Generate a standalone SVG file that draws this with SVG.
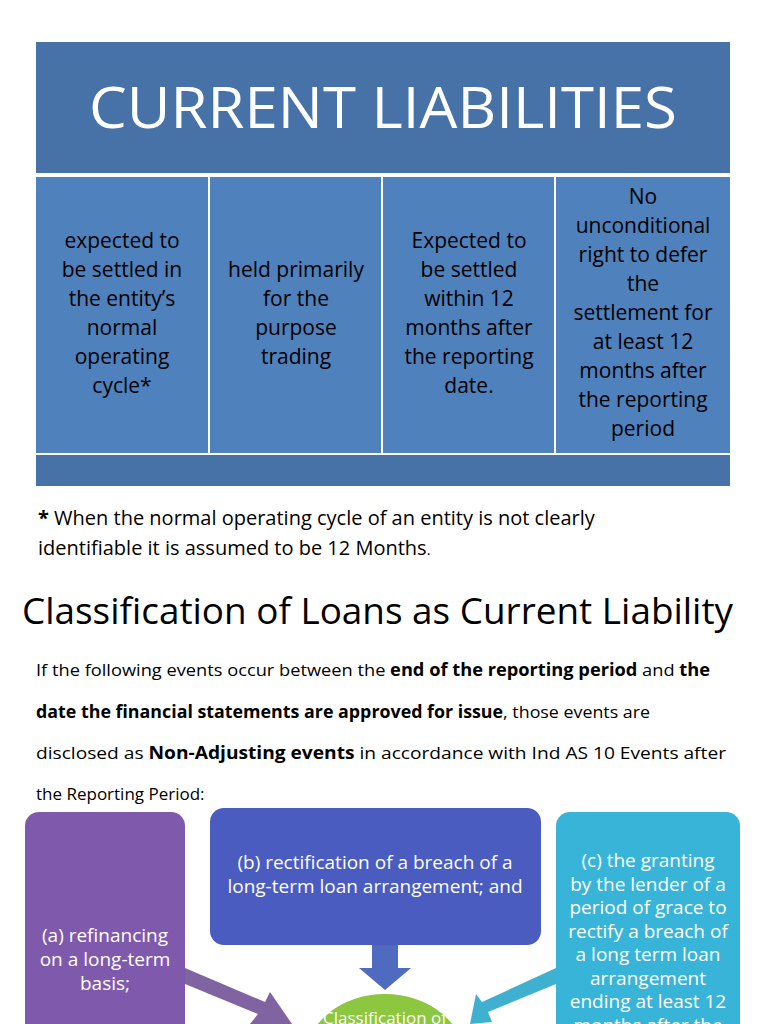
<svg xmlns="http://www.w3.org/2000/svg" width="768" height="1024" viewBox="0 0 768 1024">
<style>
.t{font-family:"Open Sans","Liberation Sans",sans-serif;fill:#000}
.w{font-family:"Open Sans","Liberation Sans",sans-serif;fill:#fff;text-anchor:middle}
.c{font-family:"Open Sans","Liberation Sans",sans-serif;fill:#000;text-anchor:middle;font-size:21px}
.cell{fill:#4f81bd}
</style>
<rect width="768" height="1024" fill="#fff"/>
<g id="header"><rect x="36" y="42" width="694" height="131" fill="#4672a8"/>
<text class="w" x="383" y="128" font-size="56" textLength="588" lengthAdjust="spacingAndGlyphs">CURRENT LIABILITIES</text></g>
<g id="col1"><rect class="cell" x="36" y="177" width="172" height="276"/>
<text class="c" x="122" y="248">expected to<tspan x="122" dy="29">be settled in</tspan><tspan x="122" dy="29">the entity’s</tspan><tspan x="122" dy="29">normal</tspan><tspan x="122" dy="29">operating</tspan><tspan x="122" dy="29">cycle*</tspan></text></g>
<g id="col2"><rect class="cell" x="210" y="177" width="171" height="276"/>
<text class="c" x="296" y="277">held primarily<tspan x="296" dy="29">for the</tspan><tspan x="296" dy="29">purpose</tspan><tspan x="296" dy="29">trading</tspan></text></g>
<g id="col3"><rect class="cell" x="383" y="177" width="171" height="276"/>
<text class="c" x="469" y="248">Expected to<tspan x="469" dy="29">be settled</tspan><tspan x="469" dy="29">within 12</tspan><tspan x="469" dy="29">months after</tspan><tspan x="469" dy="29">the reporting</tspan><tspan x="469" dy="29">date.</tspan></text></g>
<g id="col4"><rect class="cell" x="556" y="177" width="174" height="276"/>
<text class="c" x="643" y="204">No<tspan x="643" dy="29">unconditional</tspan><tspan x="643" dy="29">right to defer</tspan><tspan x="643" dy="29">the</tspan><tspan x="643" dy="29">settlement for</tspan><tspan x="643" dy="29">at least 12</tspan><tspan x="643" dy="29">months after</tspan><tspan x="643" dy="29">the reporting</tspan><tspan x="643" dy="29">period</tspan></text></g>
<rect x="36" y="455" width="694" height="31" fill="#4672a8"/>
<text class="t" x="38" y="525" font-size="20"><tspan font-weight="bold">*</tspan>  When the normal operating cycle of an entity is not clearly</text>
<text class="t" x="38" y="555" font-size="20">identifiable it is assumed to be 12 Months<tspan font-size="14">.</tspan></text>
<text class="t" x="22" y="624" font-size="36" textLength="711" lengthAdjust="spacingAndGlyphs">Classification of Loans as Current Liability</text>
<g class="t" font-size="17">
<text x="36" y="676" textLength="674" lengthAdjust="spacingAndGlyphs">If the following events occur between the <tspan font-weight="bold">end of the reporting period</tspan> and <tspan font-weight="bold">the</tspan></text>
<text x="36" y="718" textLength="614" lengthAdjust="spacingAndGlyphs"><tspan font-weight="bold">date the financial statements are approved for issue</tspan>, those events are</text>
<text x="36" y="759" textLength="690" lengthAdjust="spacingAndGlyphs">disclosed as <tspan font-weight="bold">Non-Adjusting events</tspan> in accordance with Ind AS 10 Events after</text>
<text x="36" y="800">the Reporting Period:</text>
</g>
<g id="connectors">
<polygon points="185,968 265,1002 270,992 292,1024 250,1024 258,1014 185,984" fill="#8064a2"/>
<polygon points="372,945 398,945 398,968 411,968 385,990 359,968 372,968" fill="#4f6bc0"/>
<polygon points="556,968 556,984 488,1012 492,1022 470,1024 476,994 482,1002" fill="#3fb0d0"/>
</g>
<g id="center"><ellipse cx="385" cy="1060" rx="80" ry="66" fill="#8dc63f"/>
<text class="w" x="385" y="1024" font-size="17">Classification of</text></g>
<g id="nodeA"><rect x="25" y="812" width="160" height="240" rx="14" fill="#7f5aac"/>
<text class="w" x="105" y="942" font-size="19">(a) refinancing<tspan x="105" dy="24">on a long-term</tspan><tspan x="105" dy="24">basis;</tspan></text></g>
<g id="nodeB"><rect x="210" y="808" width="331" height="137" rx="14" fill="#4a5cc0"/>
<text class="w" x="375" y="869" font-size="19">(b) rectification of a breach of a<tspan x="375" dy="24">long-term loan  arrangement; and</tspan></text></g>
<g id="nodeC"><rect x="556" y="812" width="184" height="240" rx="14" fill="#38b4d8"/>
<text class="w" x="648" y="867" font-size="19">(c) the granting<tspan x="648" dy="23.5">by the lender of a</tspan><tspan x="648" dy="23.5">period of grace to</tspan><tspan x="648" dy="23.5">rectify a breach of</tspan><tspan x="648" dy="23.5">a long term loan</tspan><tspan x="648" dy="23.5">arrangement</tspan><tspan x="648" dy="23.5">ending at least 12</tspan><tspan x="648" dy="23.5">months after the</tspan></text></g>
</svg>
